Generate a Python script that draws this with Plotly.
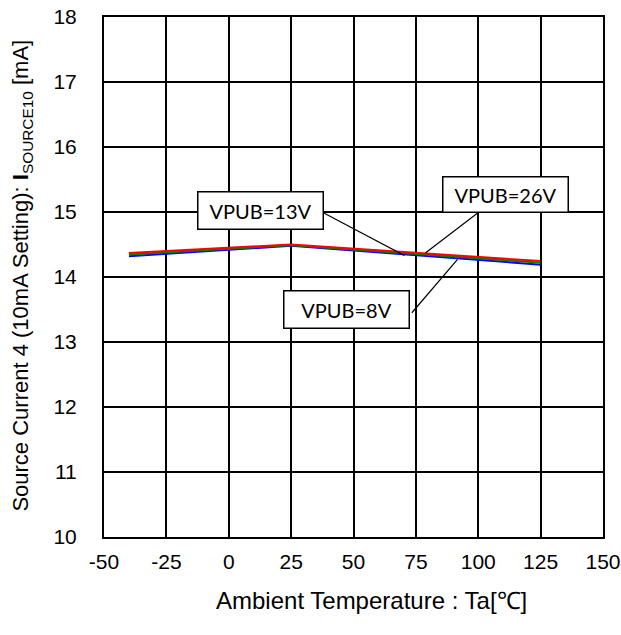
import plotly.graph_objects as go

# Data
temps = [-40, 25, 125]
vpub8 = [14.32, 14.48, 14.19]
vpub13 = [14.345, 14.49, 14.22]
vpub26 = [14.37, 14.50, 14.245]

x_ticks = [-50, -25, 0, 25, 50, 75, 100, 125, 150]
y_ticks = [10, 11, 12, 13, 14, 15, 16, 17, 18]

# target plot-area in window pixels
L, R, T, B = 103.7, 602.7, 16.7, 536.7
W, H = 621, 635

def px2paper(px, py):
    return (px - L) / (R - L), (B - py) / (B - T)

fig = go.Figure()
fig.add_trace(go.Scatter(x=temps, y=vpub8, mode="lines", line=dict(color="#0000ff", width=2), name="VPUB=8V"))
fig.add_trace(go.Scatter(x=temps, y=vpub13, mode="lines", line=dict(color="#008000", width=2), name="VPUB=13V"))
fig.add_trace(go.Scatter(x=temps, y=vpub26, mode="lines", line=dict(color="#ff0000", width=2), name="VPUB=26V"))

# leader lines
leaders = [
    ((38.1, 14.985), (70.4, 14.33)),
    ((99.9, 14.99), (78.8, 14.37)),
    ((73.4, 13.45), (91.7, 14.27)),
]
for (x0, y0), (x1, y1) in leaders:
    fig.add_shape(type="line", x0=x0, y0=y0, x1=x1, y1=y1, xref="x", yref="y",
                  line=dict(color="black", width=1.2))

labels = [("VPUB=13V", 12.8, 15.03, 36), ("VPUB=26V", 110.8, 15.27, 34), ("VPUB=8V", 47.3, 13.50, 36)]
for t, x, y, h in labels:
    fig.add_annotation(x=x, y=y, xref="x", yref="y", text=t, showarrow=False,
                       font=dict(family="Lato", size=20, color="black"),
                       bgcolor="white", bordercolor="black", borderwidth=1.5,
                       width=124, height=h, borderpad=0)

ax, ay = px2paper(371, 600)
fig.add_annotation(x=ax, y=ay, xref="paper", yref="paper", xanchor="center", yanchor="middle",
                   text="Ambient Temperature : Ta[\u2103]",
                   showarrow=False, font=dict(family="Liberation Sans", size=24, color="black"))

tx, ty = px2paper(22, 275)
fig.add_annotation(x=tx, y=ty, xref="paper", yref="paper", textangle=-90,
                   xanchor="center", yanchor="middle",
                   text="Source Current 4 (10mA Setting): <b>I</b><sub>SOURCE10</sub> [mA]",
                   showarrow=False, font=dict(family="Liberation Sans", size=22, color="black"))

fig.update_layout(
    width=W, height=H,
    margin=dict(l=L, r=W - R, t=T, b=H - B),
    paper_bgcolor="white", plot_bgcolor="white",
    showlegend=False,
    font=dict(family="Liberation Sans", size=21, color="black"),
    xaxis=dict(range=[-50, 150], tickvals=x_ticks, ticktext=[str(v) for v in x_ticks],
               showgrid=True, gridcolor="black", gridwidth=1.5, zeroline=False,
               showline=True, linecolor="black", linewidth=2, mirror=True,
               ticks="", ticklabelstandoff=5, automargin=False, ticklabeloverflow="allow"),
    yaxis=dict(range=[10, 18], tickvals=y_ticks, ticktext=[str(v) for v in y_ticks],
               showgrid=True, gridcolor="black", gridwidth=1.5, zeroline=False,
               showline=True, linecolor="black", linewidth=2, mirror=True,
               ticks="", ticklabelstandoff=21, automargin=False, ticklabeloverflow="allow"),
)

fig.write_html("out.html", config={"displayModeBar": False},
               post_script="document.body.style.margin='0';document.body.style.padding='0';"
                           "document.body.style.overflow='hidden';")
